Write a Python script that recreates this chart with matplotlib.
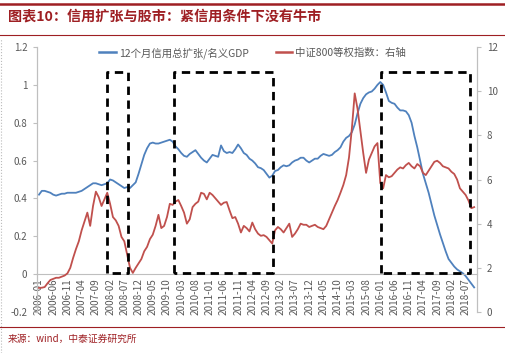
import numpy as np
import pandas as pd
import matplotlib

matplotlib.use("Agg")
import matplotlib.pyplot as plt
from matplotlib.lines import Line2D

plt.rcParams["font.family"] = ["Noto Sans CJK SC", "DejaVu Sans"]

# monthly, 2006-01 .. 2018-10
months = pd.period_range("2006-01", "2018-10", freq="M").strftime("%Y-%m").tolist()

credit_gdp = [
    0.42, 0.44, 0.44, 0.435, 0.43, 0.42, 0.415, 0.42, 0.425, 0.425, 0.43, 0.43,
    0.43, 0.43, 0.435, 0.44, 0.45, 0.46, 0.47, 0.48, 0.48, 0.475, 0.47, 0.475,
    0.48, 0.50, 0.495, 0.485, 0.475, 0.465, 0.455, 0.46, 0.455, 0.47, 0.485, 0.53,
    0.58, 0.63, 0.665, 0.69, 0.695, 0.69, 0.69, 0.695, 0.70, 0.705, 0.71, 0.70,
    0.675, 0.66, 0.64, 0.625, 0.62, 0.635, 0.645, 0.655, 0.635, 0.615, 0.60, 0.59,
    0.61, 0.63, 0.625, 0.62, 0.68, 0.65, 0.64, 0.645, 0.64, 0.66, 0.685, 0.665,
    0.64, 0.63, 0.61, 0.60, 0.585, 0.565, 0.56, 0.55, 0.53, 0.51, 0.52, 0.545,
    0.55, 0.565, 0.575, 0.57, 0.575, 0.59, 0.60, 0.605, 0.615, 0.615, 0.60, 0.59,
    0.60, 0.61, 0.61, 0.625, 0.635, 0.63, 0.625, 0.63, 0.645, 0.655, 0.67, 0.70,
    0.72, 0.73, 0.75, 0.79, 0.85, 0.90, 0.93, 0.95, 0.96, 0.965, 0.98, 1.0,
    1.015, 1.0, 0.96, 0.915, 0.905, 0.90, 0.88, 0.865, 0.865, 0.86, 0.84, 0.80,
    0.73, 0.67, 0.60, 0.53, 0.48, 0.43, 0.37, 0.31, 0.26, 0.21, 0.165, 0.12,
    0.08, 0.06, 0.04, 0.025, 0.015, 0.005, -0.01, -0.03, -0.05, -0.07,
]

csi800_ew = [
    1.09, 1.10, 1.13, 1.30, 1.45, 1.50, 1.55, 1.55, 1.60, 1.65, 1.75, 2.00,
    2.45, 2.85, 3.20, 3.70, 4.10, 4.50, 3.90, 4.80, 5.45, 5.20, 4.80, 5.10,
    5.40, 4.90, 4.30, 4.15, 3.90, 3.40, 3.20, 2.60, 2.00, 1.77, 2.00, 2.20,
    2.40, 2.75, 2.95, 3.30, 3.50, 3.90, 4.40, 3.80, 3.90, 4.30, 4.90, 4.85,
    5.00, 5.07, 4.80, 4.50, 4.00, 4.20, 4.75, 4.90, 5.00, 5.40, 5.35, 5.10,
    5.40, 5.30, 5.15, 5.00, 4.85, 4.95, 4.98, 4.60, 4.25, 4.30, 4.00, 3.60,
    3.90, 3.80, 3.65, 4.05, 3.75, 3.55, 3.45, 3.48, 3.40, 3.25, 3.10, 3.70,
    3.85, 3.75, 3.60, 3.80, 4.00, 3.40, 3.55, 3.75, 4.00, 3.95, 3.95, 3.85,
    3.90, 3.95, 3.85, 3.80, 3.75, 3.90, 4.20, 4.50, 4.80, 5.07, 5.40, 5.75,
    6.20, 7.00, 8.30, 9.90, 9.20, 8.20, 7.20, 6.30, 6.90, 7.20, 7.50, 7.65,
    5.84, 5.60, 6.20, 6.10, 6.15, 6.30, 6.45, 6.55, 6.50, 6.65, 6.75, 6.60,
    6.50, 6.70, 6.60, 6.30, 6.20, 6.40, 6.60, 6.80, 6.85, 6.75, 6.60, 6.55,
    6.50, 6.35, 6.25, 6.00, 5.60, 5.45, 5.30, 5.05, 4.70, 4.75,
]

# periods marked with dashed boxes (month index, left-axis units)
box_starts = [23.8, 47.6, 120.4]
box_ends = [31.2, 82.1, 151.5]
box_top = 1.07
box_bottom = 0.006

left_ticks = [-0.2, 0, 0.2, 0.4, 0.6, 0.8, 1, 1.2]
left_labels = ["-0.2", "0", "0.2", "0.4", "0.6", "0.8", "1", "1.2"]
right_ticks = [0, 2, 4, 6, 8, 10, 12]

BLUE = "#4F81BD"
RED = "#C0504D"
DARK_RED = "#9E1F23"
GREY = "#595959"
AXIS_GREY = "#BFBFBF"

x = np.arange(len(months))

fig = plt.figure(figsize=(5.06, 3.53), dpi=100)
ax = fig.add_axes([37 / 506, 41 / 353, 440 / 506, 265 / 353])
ax2 = ax.twinx()

ax.plot(x, credit_gdp, color=BLUE, linewidth=1.3)
ax2.plot(x, csi800_ew, color=RED, linewidth=1.3)

for x0, x1 in zip(box_starts, box_ends):
    ax2.plot([x0, x0, x1, x1, x0], [box_bottom, box_top, box_top, box_bottom, box_bottom],
             color="black", linewidth=2.0, linestyle=(0, (3, 2)),
             transform=ax.transData, zorder=5, clip_on=False)

ax.set_xlim(-0.7, 154)
ax.set_ylim(-0.2, 1.2)
ax2.set_ylim(0, 12)

# category axis crosses the left axis at 0
ax.spines["bottom"].set_position(("data", 0))

ax.set_yticks(left_ticks)
ax.set_yticklabels(left_labels)
ax2.set_yticks(right_ticks)

tick_pos = x[::5]
ax.set_xticks(tick_pos)
ax.set_xticklabels([months[i] for i in tick_pos])

for a in (ax, ax2):
    a.spines["top"].set_visible(False)
    a.spines["bottom"].set_color(AXIS_GREY)
    a.spines["left"].set_color(AXIS_GREY)
    a.spines["right"].set_color(AXIS_GREY)
ax2.spines["bottom"].set_visible(False)

ax.tick_params(axis="x", length=0, pad=3, labelsize=7.2, labelcolor=GREY,
               labelrotation=90)
ax.tick_params(axis="y", length=3, color=AXIS_GREY, labelsize=7, labelcolor=GREY, pad=4)
ax2.tick_params(axis="y", length=3, color=AXIS_GREY, labelsize=7, labelcolor=GREY, pad=4)

handles = [
    Line2D([], [], color=BLUE, linewidth=1.8),
    Line2D([], [], color=RED, linewidth=1.8),
]
ax.legend(handles, ["12个月信用总扩张/名义GDP", "中证800等权指数：右轴"],
          loc="upper center", bbox_to_anchor=(0.49, 1.035), ncol=2, frameon=False,
          fontsize=7.5, labelcolor=GREY, handlelength=1.6, handletextpad=0.3,
          columnspacing=2.6)

# report frame: title bar and source line
fig.add_artist(Line2D([0, 1], [1 - 4 / 353] * 2, color=DARK_RED, linewidth=1.8))
fig.add_artist(Line2D([0, 1], [1 - 35 / 353] * 2, color=DARK_RED, linewidth=0.8))
fig.add_artist(Line2D([0, 1], [1 - 327 / 353] * 2, color=DARK_RED, linewidth=0.8))
fig.add_artist(Line2D([1.5 / 506] * 2, [0, 1 - 38 / 353], color="#BBBBBB",
                      linewidth=0.8, linestyle=":"))

fig.text(8 / 506, 1 - 16 / 353, "图表10：信用扩张与股市：紧信用条件下没有牛市",
         color=DARK_RED, fontsize=10.2, fontweight="bold", style="italic",
         ha="left", va="center")
fig.text(8 / 506, 1 - 339 / 353, "来源：wind，中泰证券研究所",
         color=DARK_RED, fontsize=7, ha="left", va="center")

fig.savefig("out.png", dpi=100)
plt.close(fig)
